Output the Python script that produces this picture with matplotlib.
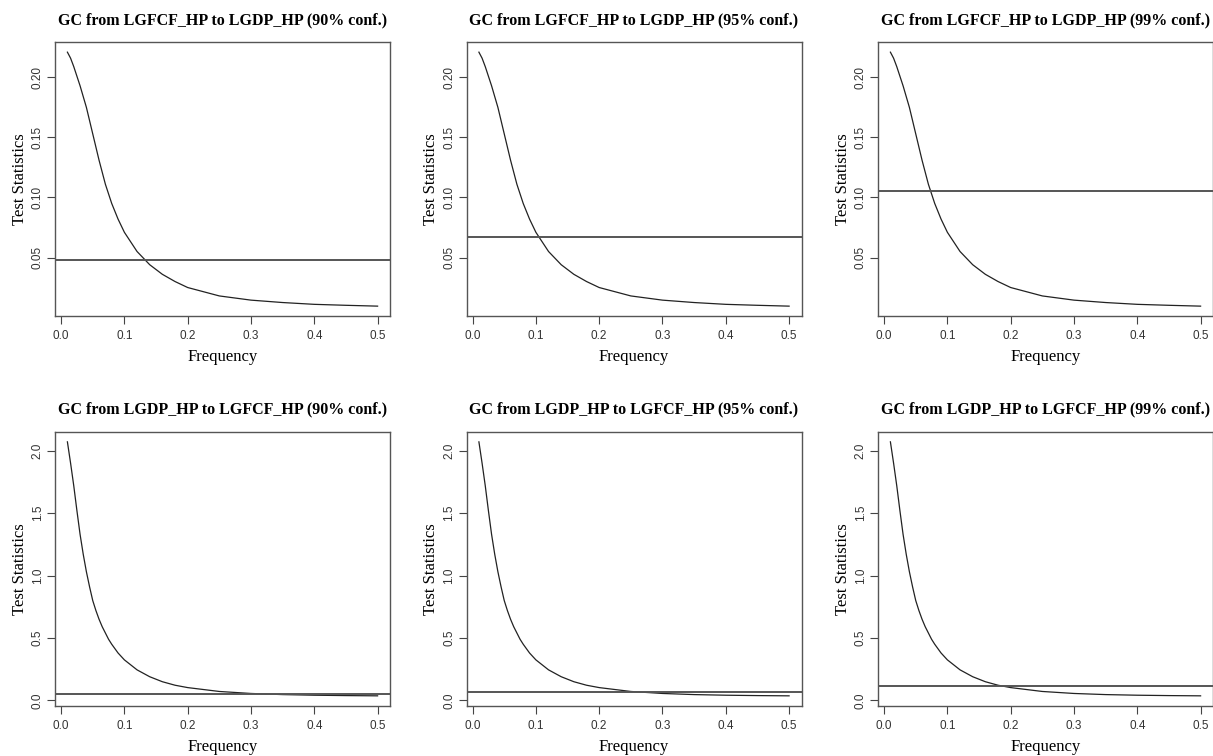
import matplotlib
matplotlib.use("Agg")
import matplotlib.pyplot as plt
from matplotlib.ticker import FixedLocator, FormatStrFormatter

freq = [0.01, 0.015, 0.02, 0.025, 0.03, 0.035, 0.04, 0.045, 0.05, 0.055, 0.06, 0.065,
        0.07, 0.075, 0.08, 0.09, 0.10,
        0.12, 0.14, 0.16, 0.18, 0.20, 0.25, 0.30, 0.35, 0.40, 0.45, 0.50]

# GC test statistic LGFCF_HP -> LGDP_HP
stat_fcf_gdp = [0.221, 0.216, 0.209, 0.201, 0.193, 0.184, 0.175, 0.164, 0.153, 0.142, 0.131, 0.121,
                0.111, 0.103, 0.095, 0.082, 0.071,
                0.055, 0.044, 0.036, 0.030, 0.025, 0.018, 0.0145, 0.0125, 0.011, 0.0102, 0.0095]

# GC test statistic LGDP_HP -> LGFCF_HP
stat_gdp_fcf = [2.07, 1.90, 1.72, 1.52, 1.33, 1.17, 1.03, 0.91, 0.80, 0.72, 0.65, 0.59,
                0.54, 0.49, 0.45, 0.38, 0.325,
                0.245, 0.19, 0.15, 0.122, 0.103, 0.072, 0.056, 0.047, 0.042, 0.039, 0.037]

conf_levels = ["90%", "95%", "99%"]
crit_top = [0.0478, 0.0674, 0.1053]
crit_bottom = [0.048, 0.067, 0.115]

rows = [
    ("GC from LGFCF_HP to LGDP_HP", stat_fcf_gdp, crit_top, [0.05, 0.10, 0.15, 0.20], "%.2f"),
    ("GC from LGDP_HP to LGFCF_HP", stat_gdp_fcf, crit_bottom, [0.0, 0.5, 1.0, 1.5, 2.0], "%.1f"),
]

W, H = 1213, 756
fig = plt.figure(figsize=(W / 100, H / 100), dpi=100)

col_left = [55, 466.5, 878]
row_top = [42, 431.7]
ax_w, ax_h = 335, 274.3

box_col = "#555555"
tick_col = "#444444"

for r, (title, stat, crit, yticks, yfmt) in enumerate(rows):
    for c in range(3):
        left = col_left[c] / W
        bottom = 1 - (row_top[r] + ax_h) / H
        ax = fig.add_axes([left, bottom, ax_w / W, ax_h / H])
        ax.plot(freq, stat, color="#222222", lw=0.9)
        ax.axhline(crit[c], color="#555555", lw=1.4)

        # R style 4% padding
        xr = max(freq) - min(freq)
        ax.set_xlim(min(freq) - 0.04 * xr, max(freq) + 0.04 * xr)
        yr = max(stat) - min(stat)
        ax.set_ylim(min(stat) - 0.04 * yr, max(stat) + 0.04 * yr)

        ax.xaxis.set_major_locator(FixedLocator([0.0, 0.1, 0.2, 0.3, 0.4, 0.5]))
        ax.xaxis.set_major_formatter(FormatStrFormatter("%.1f"))
        ax.yaxis.set_major_locator(FixedLocator(yticks))
        ax.yaxis.set_major_formatter(FormatStrFormatter(yfmt))

        for s in ax.spines.values():
            s.set_color(box_col)
            s.set_linewidth(1.0)
        ax.tick_params(axis="both", direction="out", length=6, width=0.8,
                       color=tick_col, labelcolor="#333333", labelsize=8.5, pad=4)
        ax.tick_params(axis="y", pad=2)
        for lab in ax.get_xticklabels() + ax.get_yticklabels():
            lab.set_fontfamily("Liberation Sans")
        for lab in ax.get_yticklabels():
            lab.set_rotation(90)
            lab.set_va("center")

        ax.set_title(f"{title} ({conf_levels[c]} conf.)", fontfamily="Liberation Serif",
                     fontweight="bold", fontsize=11.5, pad=13)
        ax.set_xlabel("Frequency", fontfamily="Liberation Serif", fontsize=12, labelpad=5)
        ax.set_ylabel("Test Statistics", fontfamily="Liberation Serif", fontsize=12, labelpad=3)

fig.savefig("out.png", dpi=100)
